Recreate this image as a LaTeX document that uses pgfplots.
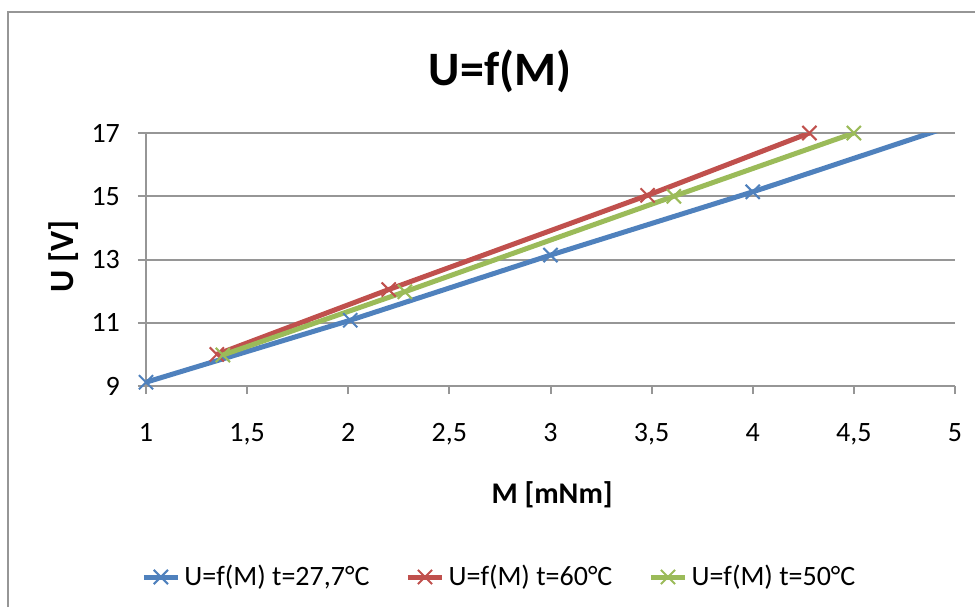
\documentclass[border=0pt]{standalone}
\usepackage{pgfplots}
\pgfplotsset{compat=1.18}
\usepackage{fontspec}
\setmainfont{Carlito}
\definecolor{xlblue}{RGB}{79,129,189}
\definecolor{xlred}{RGB}{192,80,77}
\definecolor{xlgreen}{RGB}{155,187,89}
\definecolor{xlgrid}{RGB}{150,150,150}
\begin{document}
\begin{tikzpicture}[x=0.5pt,y=0.5pt]
\useasboundingbox (0,0) rectangle (975,607);
\draw[xlgrid, line width=1pt] (8,0) -- (8,595) -- (975,595);
\node[font=\fontsize{24}{28}\selectfont\bfseries] at (500,536) {U=f(M)};
\begin{axis}[
  at={(73pt,110.5pt)}, anchor=south west,
  scale only axis, width=404.5pt, height=126.5pt,
  xmin=1, xmax=5, ymin=9, ymax=17,
  xtick={1,1.5,2,2.5,3,3.5,4,4.5,5},
  ytick={9,11,13,15,17},
  axis lines=left,
  axis line style={-, xlgrid, line width=1pt},
  ymajorgrids, grid style={xlgrid, line width=1pt},
  tick align=outside, major tick length=4pt,
  tick style={xlgrid, line width=1pt},
  /pgf/number format/assume math mode=true,
  /pgf/number format/use comma,
  ticklabel style={font=\fontsize{14}{16}\selectfont, text=black},
  xticklabel style={yshift=-11pt},
  yticklabel style={xshift=-5.5pt},
  xlabel={M [mNm]}, ylabel={U [V]},
  label style={font=\fontsize{15}{18}\selectfont\bfseries},
  xlabel style={at={(axis description cs:0.502,-0.431)}, anchor=center},
  ylabel style={at={(axis description cs:-0.1014,0.49)}, anchor=center, font=\fontsize{17}{20}\selectfont\bfseries, xshift=3pt},
  legend columns=3,
  legend style={draw=none, fill=none, at={(axis description cs:0.438,-0.755)}, anchor=center,
    font=\fontsize{14}{16}\selectfont,
    /tikz/every even column/.append style={column sep=16pt}},
  every axis plot/.append style={line width=2.5pt, mark=x, mark size=5pt,
    mark options={line width=1pt}},
]
\addplot[xlblue, mark indices={1,2,3,4}, legend image post style={mark indices={2}}] coordinates {(1,9.12) (2.01,11.08) (3.0,13.14) (4.0,15.14) (5,17.26)};
\addlegendentry{U=f(M) t=27,7°C}
\addplot[xlred] coordinates {(1.35,10.0) (2.20,12.05) (3.48,15.03) (4.28,17.0)};
\addlegendentry{U=f(M) t=60°C}
\addplot[xlgreen] coordinates {(1.38,9.98) (2.28,11.98) (3.61,15.0) (4.50,17.0)};
\addlegendentry{U=f(M) t=50°C}
\end{axis}
\end{tikzpicture}
\end{document}
